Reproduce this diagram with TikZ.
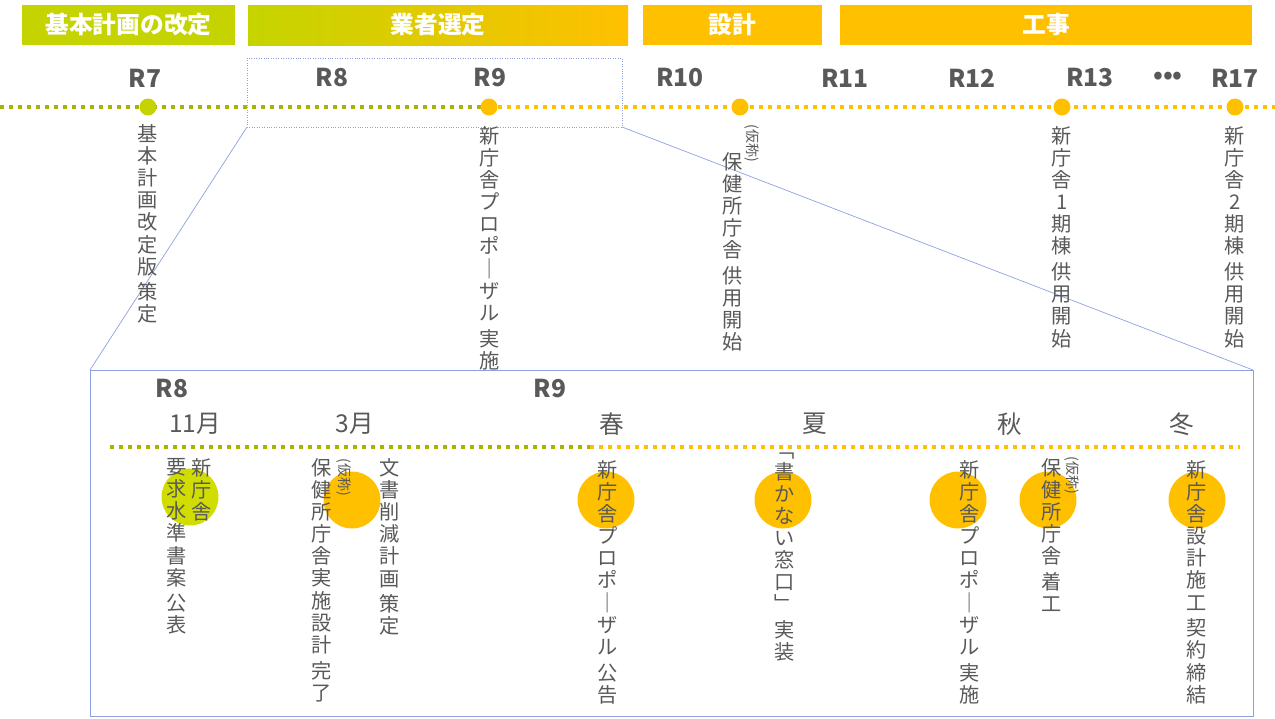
\documentclass[tikz,border=0pt]{standalone}
\usepackage{fontspec}
\setmainfont{Noto Sans CJK JP}
\definecolor{gr}{HTML}{C5D400}
\definecolor{grd}{HTML}{A8B400}
\definecolor{or}{HTML}{FFC000}
\definecolor{txt}{HTML}{595959}
\definecolor{bl}{HTML}{8FA0E0}
\begin{document}
\begin{tikzpicture}[x=0.02cm,y=-0.02cm,
 hdr/.style={minimum height=0.8cm,inner sep=0,font=\fontsize{13.5}{13.5}\selectfont\bfseries,text=white},
 yr/.style={font=\fontsize{14}{14}\selectfont\bfseries,text=txt},
 mo/.style={font=\fontsize{14}{14}\selectfont,text=txt},
 vt/.style={anchor=north,align=center,inner sep=0,text=txt,font=\fontsize{11.5}{12.6}\selectfont},
 kk/.style={rotate=-90,anchor=west,inner sep=0,text=txt,font=\fontsize{8}{8}\selectfont},
 dl/.style={line width=0.08cm,dash pattern=on 0.08cm off 0.1cm},
 zb/.style={draw=bl,line width=0.4pt}]
\useasboundingbox (0,0) rectangle (1275,718);
% headers
\node[hdr,fill=gr,minimum width=4.26cm] (h1) at (128.5,25) {基本計画の改定};
\shade[left color=gr,right color=or] (248,5) rectangle (628,45);
\node[hdr,minimum width=7.6cm] (h2) at (438,25) {業者選定};
\node[hdr,fill=or,minimum width=3.58cm] (h3) at (732.5,25) {設計};
\node[hdr,fill=or,minimum width=8.24cm] (h4) at (1046,25) {工事};
% years
\foreach \n/\x/\t in {y7/145/R7,y8/332/R8,y9/490/R9,y10/680/R10,y11/845/R11,y12/972/R12,y13/1090/R13,y17/1235/R17}
 \node[yr] (\n) at (\x,78) {\t};
\node[yr] (dots) at (1168,78) {•••};
% top line
\coordinate (l0) at (0,107); \coordinate (l1) at (489,107); \coordinate (l2) at (1275,107);
\draw[dl,grd] (l0) -- (l1);
\draw[dl,or] (l1) -- (l2);
\fill[gr] (148,107) circle (0.17cm);
\foreach \x in {489,740,1062,1235} \fill[or] (\x,107) circle (0.17cm);
% zoom box
\draw[zb,densely dotted] (247,58) rectangle (622,127);
\coordinate (za) at (247,127); \coordinate (zb) at (622,127);
\coordinate (zc) at (90,370); \coordinate (zd) at (1253,370);
\draw[zb] (za) -- (zc); \draw[zb] (zb) -- (zd);
\draw[zb] (90,370) rectangle (1253,716);
% top texts
\node[vt] (t1) at (148,124) {基\\本\\計\\画\\改\\定\\版\\[2pt]策\\定};
\node[vt] (t2) at (490,126) {新\\庁\\舎\\プ\\ロ\\ポ\\｜\\ザ\\ル\\[2pt]実\\施};
\node[kk] (t3k) at (752,124) {(仮称)};
\node[vt] (t3) at (733,152) {保\\健\\所\\庁\\舎\\[2pt]供\\用\\開\\始};
\node[vt] (t4) at (1062,126) {新\\庁\\舎\\1\\期\\棟\\[2pt]供\\用\\開\\始};
\node[vt] (t5) at (1235,126) {新\\庁\\舎\\2\\期\\棟\\[2pt]供\\用\\開\\始};
% bottom
\node[yr] (b8) at (172,388) {R8};
\node[yr] (b9) at (550,388) {R9};
\foreach \n/\x/\t in {m1/195/11月,m2/355/3月,m3/612/春,m4/815/夏,m5/1010/秋,m6/1182/冬}
 \node[mo] (\n) at (\x,424) {\t};
\coordinate (b0) at (110,447); \coordinate (b1) at (590,447); \coordinate (b2) at (1240,447);
\draw[dl,grd] (b0) -- (b1);
\draw[dl,or] (b1) -- (b2);
\fill[gr!80!yellow] (190,497) circle (0.57cm);
\foreach \x in {352,606,783,958,1048,1197} \fill[or] (\x,500) circle (0.57cm);
\node[vt] (c1a) at (202,458) {新\\庁\\舎};
\node[vt] (c1b) at (177,458) {要\\求\\水\\準\\書\\案\\[2pt]公\\表};
\node[kk] (c2k) at (344,458) {(仮称)};
\node[vt] (c2a) at (322,458) {保\\健\\所\\庁\\舎\\実\\施\\設\\計\\[2pt]完\\了};
\node[vt] (c2b) at (390,458) {文\\書\\削\\減\\計\\画\\[2pt]策\\定};
\node[vt] (c3) at (608,460) {新\\庁\\舎\\プ\\ロ\\ポ\\｜\\ザ\\ル\\[2pt]公\\告};
\node[vt] (c4) at (785,452) {﹁\\書\\か\\な\\い\\窓\\口\\﹂\\[2pt]実\\装};
\node[vt] (c5) at (970,460) {新\\庁\\舎\\プ\\ロ\\ポ\\｜\\ザ\\ル\\[2pt]実\\施};
\node[kk] (c6k) at (1072,456) {(仮称)};
\node[vt] (c6) at (1052,458) {保\\健\\所\\庁\\舎\\[2pt]着\\工};
\node[vt] (c7) at (1197,460) {新\\庁\\舎\\設\\計\\施\\工\\[2pt]契\\約\\締\\結};
\end{tikzpicture}
\end{document}
